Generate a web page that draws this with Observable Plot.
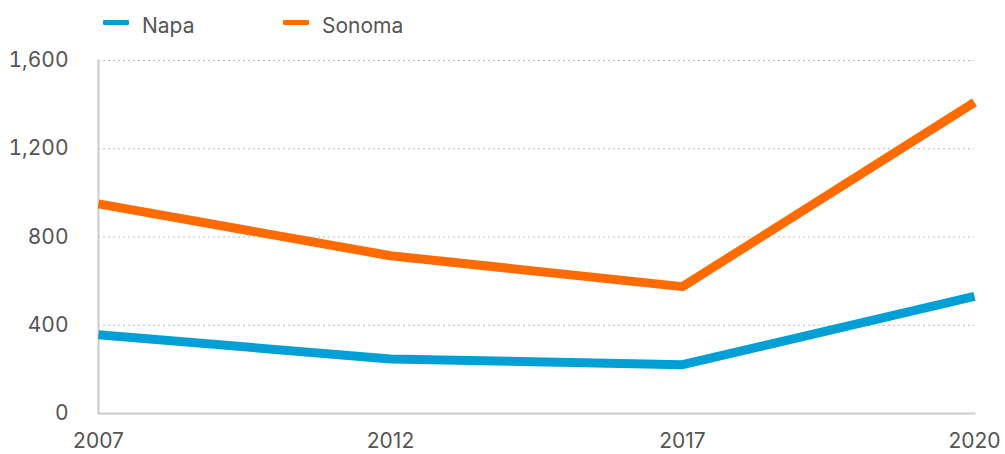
<!DOCTYPE html>
<html>
<head>
<meta charset="utf-8">
<script src="https://cdn.jsdelivr.net/npm/d3@7"></script>
<script src="https://cdn.jsdelivr.net/npm/@observablehq/plot@0.6"></script>
<style>
  body { margin: 0; background: #fff; font-family: Inter, "Open Sans", sans-serif; }
  #legend { position: relative; height: 46px; }
  .sw { position: absolute; top: 20px; width: 26px; height: 5px; border-radius: 1px; }
  .lab { position: absolute; top: 15px; font-size: 21px; line-height: 21px; color: #555; }
</style>
</head>
<body>
<div id="legend"></div>
<div id="chart"></div>
<script>
const years = ["2007", "2012", "2017", "2020"];
const napa = [357, 247, 221, 531];
const sonoma = [950, 715, 575, 1410];
const seriesNames = ["Napa", "Sonoma"];
const colors = ["#00A0D6", "#FF6B00"];
const yTicks = [0, 400, 800, 1200, 1600];

const data = [];
years.forEach((yr, i) => {
  data.push({year: yr, value: napa[i], series: "Napa"});
  data.push({year: yr, value: sonoma[i], series: "Sonoma"});
});

// legend
const legend = document.getElementById("legend");
const legendX = [103, 283];
seriesNames.forEach((s, i) => {
  const sw = document.createElement("span");
  sw.className = "sw";
  sw.style.left = legendX[i] + "px";
  sw.style.background = colors[i];
  legend.appendChild(sw);
  const lab = document.createElement("span");
  lab.className = "lab";
  lab.style.left = (legendX[i] + 39) + "px";
  lab.textContent = s;
  legend.appendChild(lab);
});

const chart = Plot.plot({
  width: 1005,
  height: 408,
  marginTop: 14,
  marginBottom: 41,
  marginLeft: 98,
  marginRight: 31,
  style: {fontFamily: "Inter, 'Open Sans', sans-serif", fontSize: "21px", color: "#555", background: "#fff", overflow: "visible"},
  x: {type: "point", domain: years, padding: 0},
  y: {domain: [0, 1600]},
  color: {domain: seriesNames, range: colors},
  marks: [
    Plot.gridY(yTicks.filter(d => d > 0), {stroke: "#bbb", strokeOpacity: 1, strokeDasharray: "2,3", strokeWidth: 1}),
    Plot.frame({anchor: "left", stroke: "#ccc", strokeWidth: 2}),
    Plot.frame({anchor: "bottom", stroke: "#ccc", strokeWidth: 2}),
    Plot.axisY({ticks: yTicks, tickSize: 0, tickPadding: 30, tickFormat: d3.format(","), label: null, fill: "#555"}),
    Plot.axisX({tickSize: 0, tickPadding: 20, label: null, fill: "#555"}),
    Plot.line(data, {x: "year", y: "value", stroke: "series", strokeWidth: 9, strokeLinecap: "butt", strokeLinejoin: "round"})
  ]
});
document.getElementById("chart").appendChild(chart);
</script>
</body>
</html>
